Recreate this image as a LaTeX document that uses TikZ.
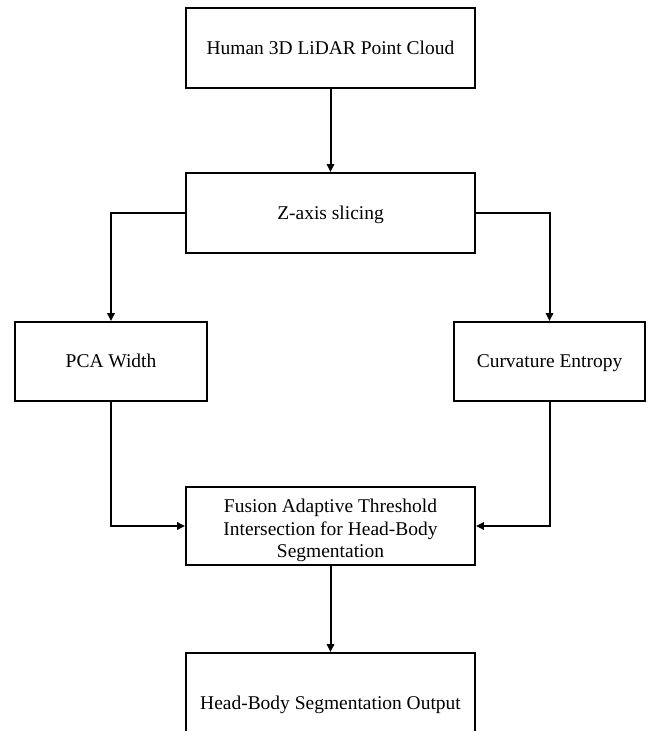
\documentclass[tikz,border=0pt]{standalone}
\usepackage{fontspec}
\setmainfont{Liberation Serif}
\usetikzlibrary{arrows.meta}
\begin{document}
\begin{tikzpicture}[x=0.75pt,y=-0.75pt,
  box/.style={draw=black,line width=1.4pt,fill=white,align=center,inner sep=0pt,
    font=\fontsize{14.6}{17}\selectfont},
  one/.style={text height=12.6pt,text depth=3pt},
  arr/.style={draw=black,line width=1.5pt,-{Triangle[length=6pt,width=5.5pt]}}]
\clip (0,0) rectangle (648,731);
\fill[white] (0,0) rectangle (648,731);
\node[box,one,minimum width=216.75pt,minimum height=60pt] (b1) at (330.5,48) {Human 3D LiDAR Point Cloud};
\node[box,one,minimum width=216.75pt,minimum height=60pt] (b2) at (330.5,213) {Z-axis slicing};
\node[box,one,minimum width=144pt,minimum height=59.25pt] (pca) at (111,361.5) {PCA Width};
\node[box,one,minimum width=143.25pt,minimum height=59.25pt] (ce) at (549.5,361.5) {Curvature Entropy};
\node[box,minimum width=216.75pt,minimum height=58.5pt] (fus) at (330.5,526) {\rule{0pt}{16.8pt}Fusion Adaptive Threshold\\Intersection for Head-Body\\Segmentation};
\node[box,one,minimum width=216.75pt,minimum height=75pt] (out) at (330.5,703) {Head-Body Segmentation Output};
\draw[arr] (b1) -- (b2);
\draw[arr] (b2.west) -| (pca.north);
\draw[arr] (b2.east) -| (ce.north);
\draw[arr] (pca.south) |- (fus.west);
\draw[arr] (ce.south) |- (fus.east);
\draw[arr] (fus) -- (out);
\end{tikzpicture}
\end{document}
